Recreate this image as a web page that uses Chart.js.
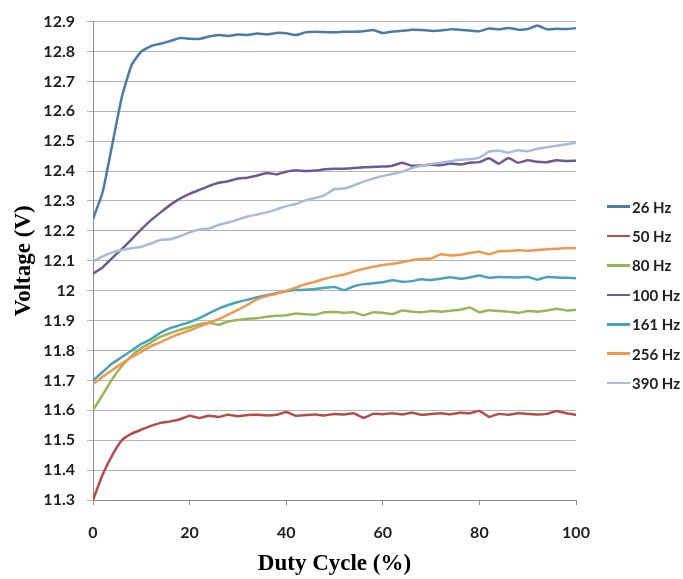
<!DOCTYPE html>
<html>
<head>
<meta charset="utf-8">
<script src="https://cdn.jsdelivr.net/npm/chart.js@4.4.1/dist/chart.umd.min.js"></script>
<style>
  html, body { margin: 0; padding: 0; background: #fff; }
  #wrap { position: relative; width: 683px; height: 579px; }
  #legend { position: absolute; left: 607px; top: 192px; font: bold 15px Lato, sans-serif; color: #222; }
  .item { display: flex; align-items: center; height: 29.4px; white-space: nowrap; }
  .swatch { width: 23px; height: 2.5px; margin-right: 2px; }
</style>
</head>
<body>
<div id="wrap">
  <canvas id="c" width="683" height="579"></canvas>
  <div id="legend"></div>
</div>
<script>
// Duty cycle (%) sample points
const dutyCycle = [0,2,4,6,8,10,12,14,16,18,20,22,24,26,28,30,32,34,36,38,40,42,44,46,48,50,
  52,54,56,58,60,62,64,66,68,70,72,74,76,78,80,82,84,86,88,90,92,94,96,98,100];

// Output voltage (V) per PWM frequency
const hz26 = [12.24,12.33,12.49,12.65,12.755,12.80,12.818,12.826,12.835,12.845,12.843,12.842,12.85,12.855,12.852,12.857,12.855,12.86,12.857,12.862,
  12.861,12.855,12.864,12.866,12.865,12.864,12.866,12.866,12.868,12.872,12.862,12.867,12.869,12.873,12.872,12.869,12.87,12.874,12.873,12.87,
  12.868,12.877,12.874,12.879,12.873,12.875,12.887,12.874,12.876,12.875,12.878];
const hz50 = [11.30,11.385,11.45,11.50,11.522,11.535,11.548,11.558,11.563,11.57,11.582,11.574,11.582,11.578,11.585,11.58,11.584,11.585,11.583,11.585,
  11.594,11.582,11.584,11.586,11.583,11.588,11.586,11.59,11.575,11.588,11.587,11.59,11.586,11.592,11.585,11.588,11.59,11.587,11.592,11.59,
  11.598,11.578,11.588,11.585,11.59,11.588,11.586,11.588,11.598,11.59,11.585];
const hz80 = [11.60,11.652,11.705,11.748,11.782,11.808,11.827,11.846,11.858,11.869,11.878,11.888,11.893,11.886,11.897,11.902,11.906,11.908,11.913,11.916,
  11.918,11.924,11.921,11.92,11.928,11.929,11.926,11.928,11.918,11.928,11.926,11.922,11.934,11.93,11.928,11.932,11.93,11.933,11.936,11.944,
  11.928,11.935,11.932,11.93,11.926,11.932,11.93,11.934,11.94,11.934,11.936];
const hz100 = [12.057,12.078,12.11,12.14,12.172,12.205,12.236,12.262,12.287,12.308,12.324,12.337,12.35,12.361,12.366,12.375,12.378,12.385,12.394,12.389,
  12.398,12.403,12.40,12.402,12.406,12.408,12.408,12.41,12.413,12.414,12.415,12.418,12.428,12.418,12.419,12.421,12.42,12.425,12.422,12.428,
  12.43,12.443,12.425,12.444,12.428,12.436,12.431,12.43,12.436,12.434,12.435];
const hz161 = [11.70,11.728,11.757,11.778,11.80,11.822,11.838,11.86,11.875,11.885,11.895,11.908,11.924,11.94,11.952,11.962,11.97,11.978,11.985,11.992,
  11.998,12.002,12.003,12.006,12.01,12.012,12.002,12.015,12.022,12.025,12.028,12.035,12.03,12.032,12.038,12.036,12.04,12.045,12.04,12.044,
  12.051,12.043,12.046,12.045,12.044,12.046,12.037,12.046,12.044,12.043,12.042];
const hz256 = [11.688,11.712,11.735,11.757,11.778,11.795,11.815,11.828,11.843,11.856,11.867,11.88,11.892,11.905,11.92,11.936,11.953,11.972,11.982,11.99,
  12.0,12.01,12.022,12.03,12.04,12.048,12.054,12.064,12.073,12.08,12.086,12.09,12.095,12.102,12.106,12.108,12.122,12.118,12.12,12.126,
  12.13,12.122,12.132,12.133,12.135,12.134,12.136,12.139,12.14,12.143,12.142];
const hz390 = [12.098,12.115,12.128,12.136,12.142,12.147,12.158,12.17,12.172,12.182,12.195,12.205,12.208,12.22,12.228,12.238,12.248,12.255,12.262,12.272,
  12.283,12.29,12.302,12.31,12.32,12.34,12.342,12.352,12.365,12.375,12.384,12.39,12.398,12.41,12.418,12.424,12.428,12.433,12.438,12.44,
  12.445,12.465,12.468,12.462,12.47,12.466,12.475,12.48,12.485,12.49,12.495];

const seriesNames = ['26 Hz','50 Hz','80 Hz','100 Hz','161 Hz','256 Hz','390 Hz'];
const seriesValues = [hz26, hz50, hz80, hz100, hz161, hz256, hz390];
const seriesColors = ['#4e7aa8','#b44c4a','#98b558','#6e5a92','#48a3bb','#f0984e','#a6bcda'];

const xTicks = [0,20,40,60,80,100];
const yMin = 11.3, yMax = 12.9, yStep = 0.1;

const datasets = seriesNames.map((name, i) => ({
  label: name,
  data: dutyCycle.map((d, k) => ({ x: d, y: seriesValues[i][k] })),
  borderColor: seriesColors[i],
  backgroundColor: seriesColors[i],
  borderWidth: 2.5,
  pointRadius: 0,
  tension: 0.15,
  order: seriesNames.length - i
}));

const tickFont = { family: 'Lato', weight: 'bold', size: 16 };
const titleFont = { family: 'Liberation Serif', weight: 'bold', size: 23 };

new Chart(document.getElementById('c'), {
  type: 'line',
  data: { datasets },
  options: {
    responsive: false,
    devicePixelRatio: 1,
    animation: false,
    layout: { padding: { top: 17, right: 107, left: 0, bottom: 0 } },
    plugins: { legend: { display: false }, tooltip: { enabled: false } },
    scales: {
      x: {
        type: 'linear',
        min: 0, max: 100,
        afterBuildTicks: s => { s.ticks = xTicks.map(v => ({ value: v })); },
        afterFit: s => { s.height = 79; },
        ticks: { font: tickFont, color: '#1e1e1e', padding: 18, maxRotation: 0 },
        grid: { drawOnChartArea: false, drawTicks: true, tickLength: 5, color: '#8c8c8c' },
        border: { color: '#8c8c8c', width: 1 },
        title: { display: true, text: 'Duty Cycle (%)', font: titleFont, color: '#000', padding: { top: 0, bottom: 1 } }
      },
      y: {
        type: 'linear',
        min: yMin, max: yMax,
        ticks: { stepSize: yStep, font: tickFont, color: '#1e1e1e', padding: 12,
          callback: v => Number(v.toFixed(1)).toString() },
        afterFit: s => { s.width = 93; },
        grid: { color: '#b4b4b4', lineWidth: 1, tickLength: 6, drawTicks: true },
        border: { color: '#8c8c8c', width: 1 },
        title: { display: true, text: 'Voltage (V)', font: titleFont, color: '#000', padding: { top: 10, bottom: 0 } }
      }
    }
  }
});

const legend = document.getElementById('legend');
seriesNames.forEach((name, i) => {
  const item = document.createElement('div');
  item.className = 'item';
  const sw = document.createElement('span');
  sw.className = 'swatch';
  sw.style.background = seriesColors[i];
  const tx = document.createElement('span');
  tx.textContent = name;
  item.appendChild(sw);
  item.appendChild(tx);
  legend.appendChild(item);
});
</script>
</body>
</html>
